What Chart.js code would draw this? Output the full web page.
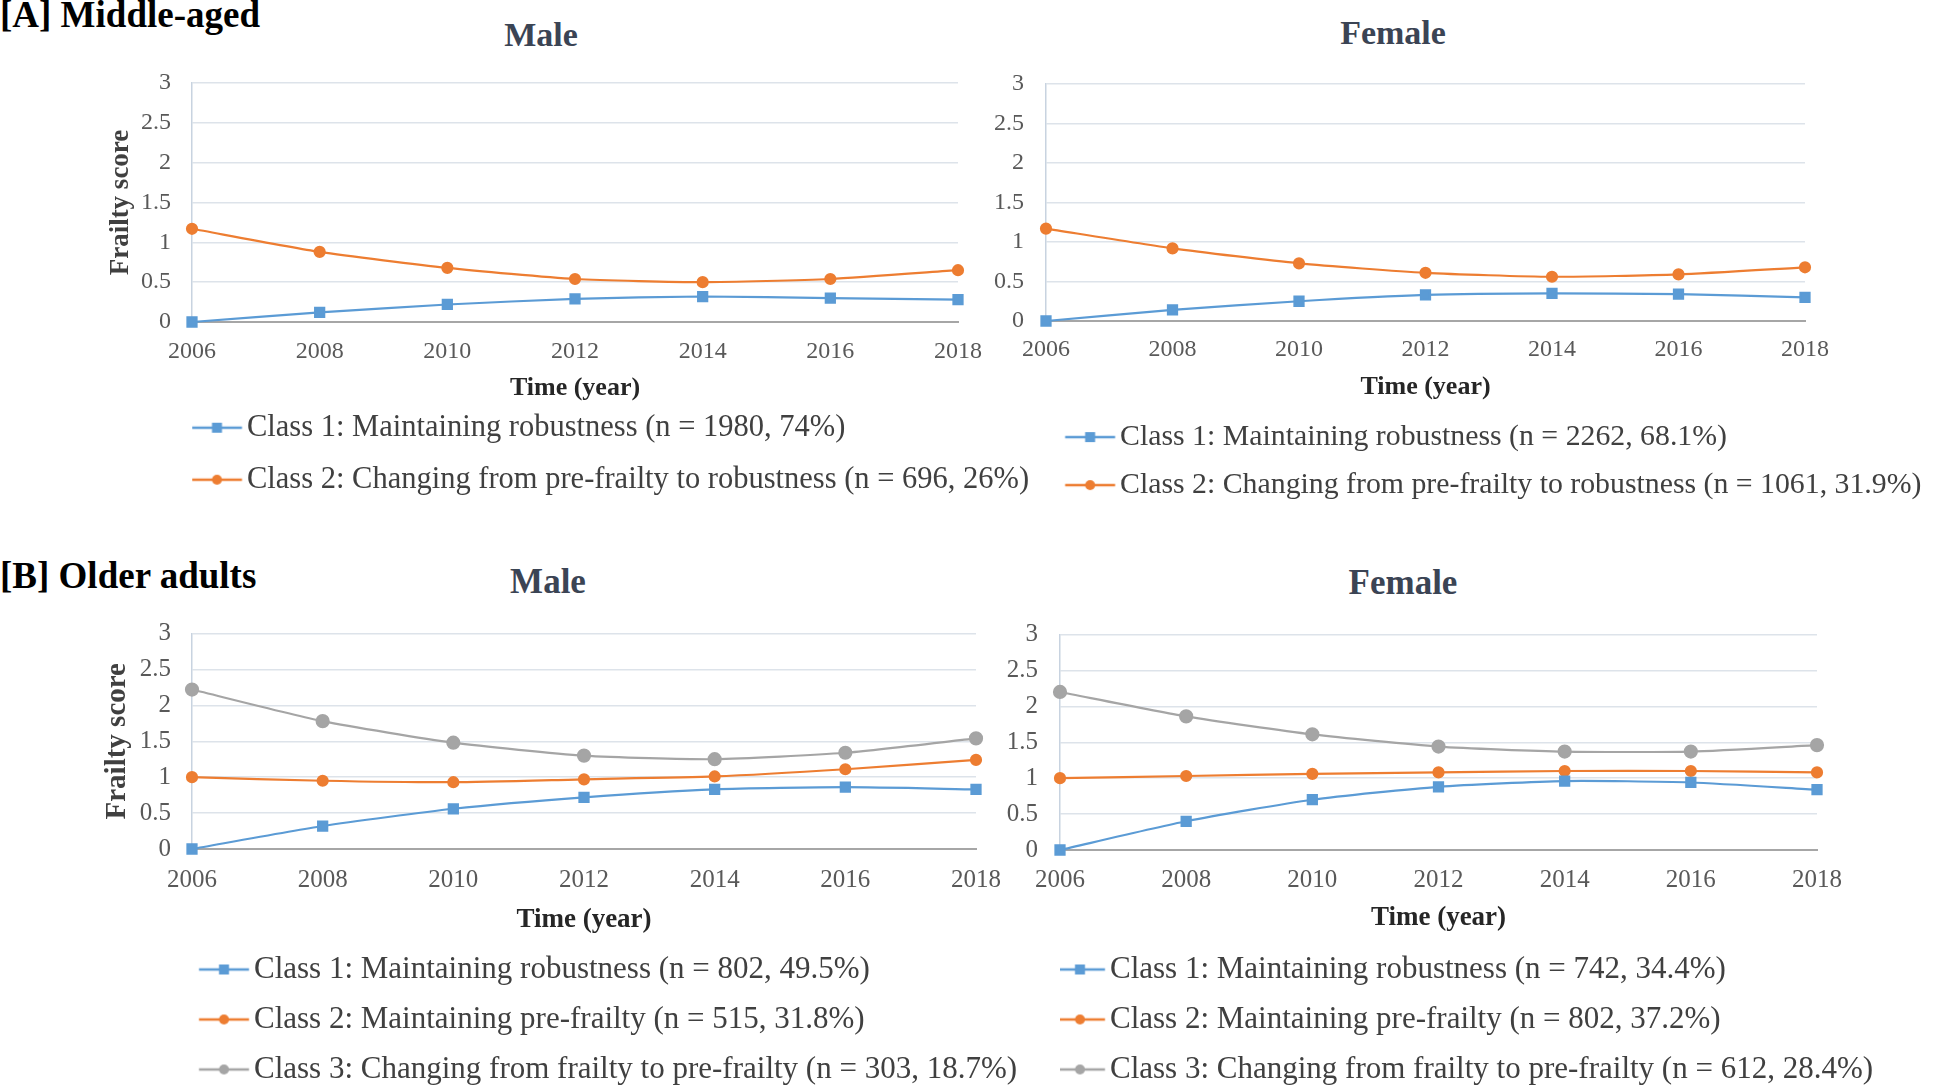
<!DOCTYPE html>
<html>
<head>
<meta charset="utf-8">
<script src="https://cdn.jsdelivr.net/npm/chart.js@4.4.0/dist/chart.umd.min.js"></script>
<style>
  html, body { margin: 0; padding: 0; background: #fff; width: 1944px; height: 1092px; overflow: hidden; }
  body { position: relative; }
  canvas { position: absolute; }
  .txt { position: absolute; font-family: "Liberation Serif", "Times New Roman", serif; font-weight: bold; line-height: 1; white-space: nowrap; }
  .panel { color: #000; font-size: 37px; left: 0; }
  .title { color: #3b4454; text-align: center; width: 400px; }
</style>
</head>
<body>
<div class="txt panel" style="top:-4px;">[A] Middle-aged</div>
<div class="txt title" style="left:341px; top:18px; font-size:34px;">Male</div>
<div class="txt title" style="left:1193px; top:16px; font-size:34px;">Female</div>
<div class="txt panel" style="top:557px;">[B] Older adults</div>
<div class="txt title" style="left:348px; top:564px; font-size:35px;">Male</div>
<div class="txt title" style="left:1203px; top:565px; font-size:35px;">Female</div>

<canvas id="midMale" width="940" height="455" style="left:100px; top:50px;"></canvas>
<canvas id="midFemale" width="979" height="460" style="left:965px; top:50px;"></canvas>
<canvas id="oldMale" width="945" height="495" style="left:95px; top:600px;"></canvas>
<canvas id="oldFemale" width="964" height="495" style="left:980px; top:600px;"></canvas>

<script>
const years = ["2006", "2008", "2010", "2012", "2014", "2016", "2018"];

// [A] Middle-aged
const midMaleClass1 = [0, 0.12, 0.22, 0.29, 0.32, 0.30, 0.28];
const midMaleClass2 = [1.17, 0.88, 0.68, 0.54, 0.50, 0.54, 0.65];
const midFemaleClass1 = [0, 0.14, 0.25, 0.33, 0.35, 0.34, 0.30];
const midFemaleClass2 = [1.17, 0.92, 0.73, 0.61, 0.56, 0.59, 0.68];

// [B] Older adults
const oldMaleClass1 = [0, 0.32, 0.56, 0.72, 0.83, 0.86, 0.83];
const oldMaleClass2 = [1.0, 0.95, 0.93, 0.97, 1.01, 1.11, 1.24];
const oldMaleClass3 = [2.22, 1.78, 1.48, 1.30, 1.25, 1.34, 1.54];
const oldFemaleClass1 = [0, 0.40, 0.70, 0.88, 0.96, 0.94, 0.84];
const oldFemaleClass2 = [1.0, 1.03, 1.06, 1.08, 1.10, 1.10, 1.08];
const oldFemaleClass3 = [2.20, 1.86, 1.61, 1.44, 1.37, 1.37, 1.46];

// Legend texts
const midMaleLabels = [
  "Class 1: Maintaining robustness (n = 1980, 74%)",
  "Class 2: Changing from pre-frailty to robustness (n = 696, 26%)",
];
const midFemaleLabels = [
  "Class 1: Maintaining robustness (n = 2262, 68.1%)",
  "Class 2: Changing from pre-frailty to robustness (n = 1061, 31.9%)",
];
const oldMaleLabels = [
  "Class 1: Maintaining robustness (n = 802, 49.5%)",
  "Class 2: Maintaining pre-frailty (n = 515, 31.8%)",
  "Class 3: Changing from frailty to pre-frailty (n = 303, 18.7%)",
];
const oldFemaleLabels = [
  "Class 1: Maintaining robustness (n = 742, 34.4%)",
  "Class 2: Maintaining pre-frailty (n = 802, 37.2%)",
  "Class 3: Changing from frailty to pre-frailty (n = 612, 28.4%)",
];

const FONT = "'Liberation Serif', 'Times New Roman', serif";

// Excel-like look of each class
const classStyles = [
  { color: "#5b9bd5", pointStyle: "rect", radius: 6.4 },
  { color: "#ed7d31", pointStyle: "circle", radius: 5 },
  { color: "#a5a5a5", pointStyle: "circle", radius: 6 },
];

// Line + marker icon for the legend, shifted so that it ends just before the text
function makeIcon(style, boxWidth, fontSize) {
  const right = boxWidth / 2 + fontSize / 2 - 5;
  const left = right - 50;
  const half = Math.ceil(Math.max(Math.abs(left), Math.abs(right))) + 1;
  const icon = document.createElement("canvas");
  icon.width = half * 2;
  icon.height = 16;
  const ctx = icon.getContext("2d");
  ctx.strokeStyle = style.color;
  ctx.lineWidth = 2.5;
  ctx.beginPath();
  ctx.moveTo(half + left, 8);
  ctx.lineTo(half + right, 8);
  ctx.stroke();
  ctx.fillStyle = style.color;
  const mid = half + (left + right) / 2;
  if (style.pointStyle === "rect") {
    ctx.fillRect(mid - 5, 3, 10, 10);
  } else {
    ctx.beginPath();
    ctx.arc(mid, 8, 5, 0, Math.PI * 2);
    ctx.fill();
  }
  return icon;
}

// the legend box sits under the plot, but its long lines may run past the plot's right edge
const legendNoClip = {
  id: "legendNoClip",
  afterLayout(chart) {
    chart.legend.right = chart.width;
    chart.legend.width = chart.width - chart.legend.left;
  },
};

function makeChart(id, series, labels, cfg) {
  const datasets = series.map((data, i) => ({
    label: labels[i],
    data: data,
    borderColor: classStyles[i].color,
    backgroundColor: classStyles[i].color,
    pointBackgroundColor: classStyles[i].color,
    pointBorderColor: classStyles[i].color,
    pointStyle: classStyles[i].pointStyle,
    pointRadius: classStyles[i].radius,
    borderWidth: 2.2,
    tension: 0.2,
    clip: false,
  }));
  const icons = series.map((_, i) => makeIcon(classStyles[i], cfg.legend.boxWidth, cfg.legend.size));

  return new Chart(document.getElementById(id), {
    type: "line",
    data: { labels: years, datasets: datasets },
    plugins: [legendNoClip],
    options: {
      responsive: false,
      animation: false,
      devicePixelRatio: 1,
      layout: { padding: cfg.padding },
      scales: {
        x: {
          offset: false,
          grid: { display: false, drawTicks: false },
          border: { color: "#a6a6a6", width: 2 },
          ticks: {
            font: { family: FONT, size: cfg.tickSize, lineHeight: 1 },
            color: "#595959",
            padding: cfg.xTickPad,
            maxRotation: 0,
            autoSkip: false,
          },
          title: {
            display: true,
            text: "Time (year)",
            color: "#262626",
            font: { family: FONT, size: cfg.xTitle.size, weight: "bold", lineHeight: 1 },
            padding: cfg.xTitle.padding,
          },
        },
        y: {
          min: 0,
          max: 3,
          grid: { color: "#dde3ea", lineWidth: 1.5, drawTicks: false },
          border: { color: "#c8d3e0", width: 1.5 },
          ticks: {
            stepSize: 0.5,
            callback: (v) => String(v),
            font: { family: FONT, size: cfg.tickSize, lineHeight: 1 },
            color: "#595959",
            padding: cfg.yTickPad,
          },
          title: {
            display: !!cfg.yTitle,
            text: "Frailty score",
            color: "#404040",
            font: { family: FONT, size: cfg.yTitle ? cfg.yTitle.size : 12, weight: "bold", lineHeight: 1 },
            padding: cfg.yTitle ? cfg.yTitle.padding : 0,
          },
        },
      },
      plugins: {
        tooltip: { enabled: false },
        legend: {
          position: "bottom",
          align: "start",
          fullSize: false,
          labels: {
            usePointStyle: true,
            pointStyleWidth: cfg.legend.boxWidth,
            padding: cfg.legend.padding,
            color: "#404040",
            font: { family: FONT, size: cfg.legend.size },
            generateLabels: (chart) => {
              const items = Chart.defaults.plugins.legend.labels.generateLabels(chart);
              items.forEach((item, i) => { item.pointStyle = icons[i]; item.rotation = 0; });
              return items;
            },
          },
        },
      },
    },
  });
}

makeChart("midMale", [midMaleClass1, midMaleClass2], midMaleLabels, {
  padding: { left: 7.5, right: 82, top: 33, bottom: 0 },
  tickSize: 24,
  xTickPad: 17.5,
  xTitle: { size: 26, padding: { top: -6, bottom: -10 } },
  yTickPad: 21,
  yTitle: { size: 27, padding: { top: 0, bottom: -14.5 } },
  legend: { size: 30.5, padding: 21.5, boxWidth: 18.25 },
});

makeChart("midFemale", [midFemaleClass1, midFemaleClass2], midFemaleLabels, {
  padding: { left: 7, right: 139, top: 31, bottom: 0 },
  tickSize: 24,
  xTickPad: 17,
  xTitle: { size: 26, padding: { top: -5, bottom: 4 } },
  yTickPad: 22,
  yTitle: null,
  legend: { size: 29.8, padding: 18.2, boxWidth: 41 },
});

makeChart("oldMale", [oldMaleClass1, oldMaleClass2, oldMaleClass3], oldMaleLabels, {
  padding: { left: 8.5, right: 64, top: 32, bottom: 0 },
  tickSize: 25,
  xTickPad: 18.5,
  xTitle: { size: 27, padding: { top: -4.5, bottom: 1.5 } },
  yTickPad: 21,
  yTitle: { size: 29, padding: { top: 0, bottom: -13.75 } },
  legend: { size: 31, padding: 19, boxWidth: 27.5 },
});

makeChart("oldFemale", [oldFemaleClass1, oldFemaleClass2, oldFemaleClass3], oldFemaleLabels, {
  padding: { left: 4.75, right: 127, top: 32, bottom: 0 },
  tickSize: 25,
  xTickPad: 17.5,
  xTitle: { size: 27, padding: { top: -5, bottom: 3 } },
  yTickPad: 22,
  yTitle: null,
  legend: { size: 31, padding: 19, boxWidth: 15.5 },
});
</script>
</body>
</html>
